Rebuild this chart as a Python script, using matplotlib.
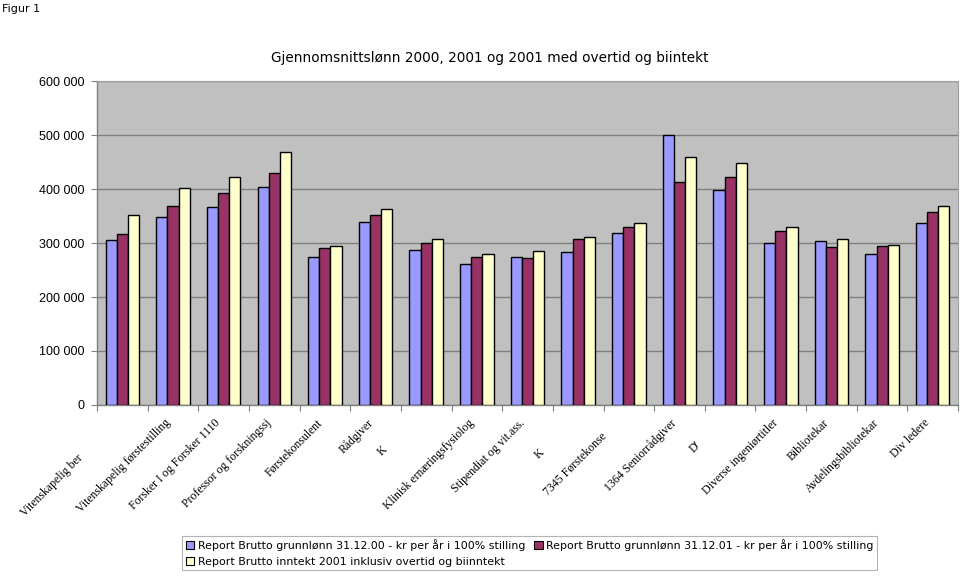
import matplotlib
matplotlib.use("Agg")
import matplotlib.pyplot as plt
import numpy as np
from matplotlib.patches import Patch
import matplotlib.transforms as mtransforms

categories = ["Vitenskapelig ber", "Vitenskapelig førstestilling", "Forsker I og Forsker 1110",
              "Professor og forskningssj", "Førstekonsulent", "Rådgiver", "K",
              "Klinisk ernæringsfysiolog", "Stipendiat og vit.ass.", "K", "7345 Førstekonse",
              "1364 Seniorrådgiver", "D'", "Diverse ingeniørtitler", "Bibliotekar",
              "Avdelingsbibliotekar", "Div ledere"]
brutto_2000 = [305000, 349000, 367000, 404000, 275000, 339000, 287000, 262000, 275000,
               283000, 319000, 500000, 399000, 300000, 303000, 279000, 337000]
brutto_2001 = [316000, 369000, 393000, 429000, 290000, 352000, 301000, 275000, 273000,
               308000, 330000, 413000, 423000, 323000, 293000, 295000, 357000]
inntekt_2001 = [352000, 403000, 422000, 468000, 294000, 363000, 307000, 280000, 286000,
                312000, 337000, 460000, 448000, 330000, 307000, 296000, 368000]
series_names = ["Report Brutto grunnlønn 31.12.00 - kr per år i 100% stilling",
                "Report Brutto grunnlønn 31.12.01 - kr per år i 100% stilling",
                "Report Brutto inntekt 2001 inklusiv overtid og biinntekt"]
colors = ["#9999FF", "#993366", "#FFFFCC"]
yticks = [0, 100000, 200000, 300000, 400000, 500000, 600000]
ytick_labels = ["0", "100 000", "200 000", "300 000", "400 000", "500 000", "600 000"]

# label offsets in pixels (dx, dy) for staggered labels
label_offsets = {0: (-36, -35), 6: (-36, -27), 9: (-31, -30), 10: (-19, -13), 12: (-26, -22)}

fig = plt.figure(figsize=(9.6, 5.76), dpi=100)
ax = fig.add_axes([0.101, 0.297, 0.897, 0.562])
ax.set_facecolor("#C0C0C0")

n = len(categories)
x = np.arange(n)
w = 0.22
for i, (vals, c) in enumerate(zip([brutto_2000, brutto_2001, inntekt_2001], colors)):
    ax.bar(x + (i - 1) * w, vals, width=w, color=c, edgecolor="black", linewidth=1.0, zorder=3)

ax.set_xlim(-0.5, n - 0.5)
ax.set_ylim(0, 600000)
ax.set_yticks(yticks)
ax.set_yticklabels(ytick_labels, fontsize=9, family="Liberation Sans")
ax.yaxis.grid(True, color="#808080", linewidth=1.0, zorder=0)
ax.set_xticks(np.arange(n + 1) - 0.5)
ax.set_xticklabels([])
ax.tick_params(axis="x", length=4, color="#808080", direction="out")
ax.tick_params(axis="y", length=4, color="#808080", direction="out", pad=5)
for s in ["top", "right"]:
    ax.spines[s].set_color("#A0A0A0")
    ax.spines[s].set_linewidth(0.8)
for s in ["left", "bottom"]:
    ax.spines[s].set_color("#808080")
    ax.spines[s].set_linewidth(1.0)

trans = mtransforms.blended_transform_factory(ax.transData, ax.transAxes)
for i, lab in enumerate(categories):
    dx, dy = label_offsets.get(i, (0, 0))
    off = mtransforms.offset_copy(trans, fig=fig, x=dx - 9, y=dy - 12, units="dots")
    ax.text(i, 0, lab, transform=off, rotation=45, rotation_mode="anchor",
            ha="right", va="top", fontsize=8.5, family="Liberation Serif")

fig.text(0.002, 0.993, "Figur 1", ha="left", va="top", fontsize=8, family="DejaVu Sans")
fig.text(0.51, 0.9, "Gjennomsnittslønn 2000, 2001 og 2001 med overtid og biintekt",
         ha="center", va="center", fontsize=9.8, family="DejaVu Sans")

handles = [Patch(facecolor=c, edgecolor="black", linewidth=0.8) for c in colors]
order = [0, 2, 1]
leg = fig.legend([handles[k] for k in order], [series_names[k] for k in order],
                 loc="upper left", bbox_to_anchor=(0.19, 0.07),
                 ncol=2, fontsize=7.9, frameon=True, fancybox=False, handlelength=0.8,
                 handleheight=0.8, handletextpad=0.3, columnspacing=0.8, labelspacing=0.55,
                 borderpad=0.3, borderaxespad=0)
leg.get_frame().set_edgecolor("#A0A0A0")
leg.get_frame().set_linewidth(0.8)
leg.set_bbox_to_anchor((0.19, 0.07), transform=fig.transFigure)

fig.savefig("out.png", dpi=100)
